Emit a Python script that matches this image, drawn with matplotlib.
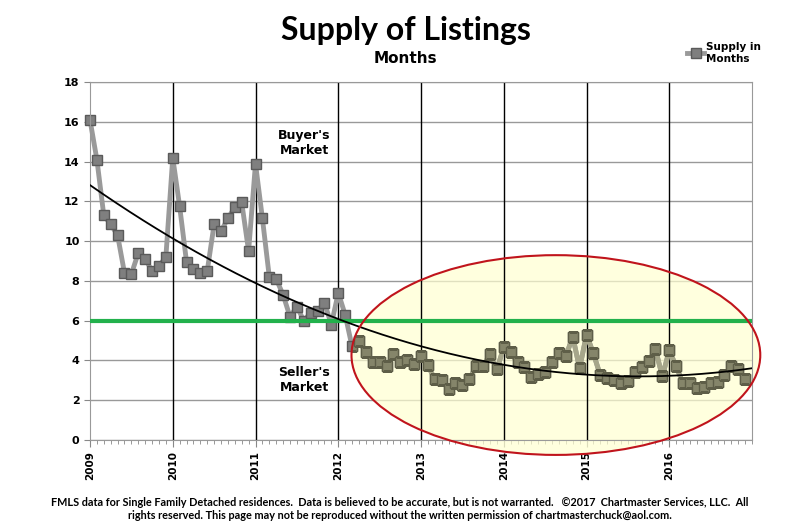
import numpy as np
import matplotlib.pyplot as plt
from matplotlib.patches import Ellipse
from matplotlib.ticker import MultipleLocator

# monthly supply of listings, Jan 2009 - Dec 2016
supply = [16.1, 14.1, 11.3, 10.85, 10.3, 8.4, 8.35, 9.4, 9.1, 8.5, 8.75, 9.2,
          14.2, 11.75, 8.95, 8.6, 8.4, 8.5, 10.85, 10.5, 11.15, 11.7, 11.95, 9.5,
          13.9, 11.15, 8.2, 8.1, 7.3, 6.2, 6.7, 6.0, 6.4, 6.5, 6.9, 5.8,
          7.4, 6.3, 4.7, 5.0, 4.4, 3.9, 3.9, 3.7, 4.3, 3.9, 4.0, 3.8,
          4.2, 3.75, 3.05, 3.0, 2.55, 2.85, 2.75, 3.05, 3.7, 3.7, 4.3, 3.55,
          4.65, 4.4, 3.9, 3.65, 3.15, 3.3, 3.4, 3.9, 4.35, 4.2, 5.2, 3.6,
          5.3, 4.35, 3.25, 3.1, 3.0, 2.85, 2.95, 3.4, 3.65, 3.95, 4.55, 3.2,
          4.5, 3.7, 2.85, 2.85, 2.6, 2.65, 2.85, 2.9, 3.25, 3.7, 3.55, 3.05]
years = list(range(2009, 2017))
balanced = 6
ellipse_center = (2014.63, 4.27)
ellipse_size = (4.94, 10.05)

x = 2009 + np.arange(len(supply)) / 12.0

fig = plt.figure(figsize=(8, 5.3), dpi=100)
ax = fig.add_axes([0.1125, 0.17, 0.8275, 0.675])

ax.set_xlim(2009, 2017)
ax.set_ylim(0, 18)
ax.yaxis.set_major_locator(MultipleLocator(2))
ax.xaxis.set_minor_locator(MultipleLocator(1 / 12))
ax.set_xticks(years)
ax.set_xticklabels([str(y) for y in years], rotation=90, fontweight='bold', fontsize=7.5,
                   va='top', ha='center')
for lbl in ax.get_yticklabels():
    lbl.set_fontweight('bold')
ax.tick_params(axis='y', labelsize=8, length=4, color='#888888')
ax.tick_params(axis='x', which='major', length=5, color='#888888', pad=3)
ax.tick_params(axis='x', which='minor', length=3, color='#888888')
for s in ax.spines.values():
    s.set_color('#999999')

ax.grid(axis='y', color='#999999', lw=1, zorder=0)
ax.set_axisbelow(True)
for y in years[1:]:
    ax.axvline(y, color='black', lw=1, zorder=1.8)

# seller's market zone
ell = Ellipse(ellipse_center, ellipse_size[0], ellipse_size[1], facecolor='#ffffd0',
              alpha=0.7, edgecolor='none', zorder=1.5, clip_on=False)
ax.add_patch(ell)

ax.plot(x, supply, color='#9a9a9a', lw=3.5, marker='s', ms=6.5, clip_on=False,
        mfc='#7f7f7f', mec='#5a5a5a', mew=1, zorder=2, label='Supply in\nMonths')
# same series tinted inside the ellipse
inner, = ax.plot(x, supply, color='#a6a68a', lw=3.5, marker='s', ms=6.5,
                 mfc='#85856a', mec='#5e5e48', mew=1, zorder=2.5)
inner.set_clip_path(ell)

ax.add_patch(Ellipse(ellipse_center, ellipse_size[0], ellipse_size[1], facecolor='none',
                     edgecolor='#c0141c', lw=1.5, zorder=5, clip_on=False))

ax.axhline(balanced, color='#22b14c', lw=3, zorder=4)

coef = np.polyfit(x - 2009, supply, 2)
xt = np.linspace(2009, 2017, 200)
ax.plot(xt, np.polyval(coef, xt - 2009), color='black', lw=1.3, zorder=4)

ax.text(2011.59, 14.95, "Buyer's\nMarket", ha='center', va='center', fontsize=9,
        fontweight='bold', zorder=6)
ax.text(2011.59, 3.0, "Seller's\nMarket", ha='center', va='center', fontsize=9,
        fontweight='bold', zorder=6)

fig.text(0.507, 0.943, 'Supply of Listings', ha='center', va='center', fontsize=23,
         fontweight='bold', family=['Lato', 'DejaVu Sans'])
fig.text(0.507, 0.89, 'Months', ha='center', va='center', fontsize=11,
         fontweight='bold')

leg = fig.legend(loc='center', bbox_to_anchor=(0.905, 0.9), frameon=False,
                 fontsize=7.5, handlelength=1.6, handletextpad=0.2)
for t in leg.get_texts():
    t.set_fontweight('bold')

footer = ("FMLS data for Single Family Detached residences.  Data is believed to be accurate, "
          "but is not warranted.   \u00a92017  Chartmaster Services, LLC.  All\n"
          "rights reserved. This page may not be reproduced without the written permission "
          "of chartmasterchuck@aol.com.")
fig.text(0.5, 0.04, footer, ha='center', va='center', fontsize=7.8, fontweight='bold',
         family=['Lato', 'DejaVu Sans'], linespacing=1.25)

fig.savefig('out.png', dpi=100)
